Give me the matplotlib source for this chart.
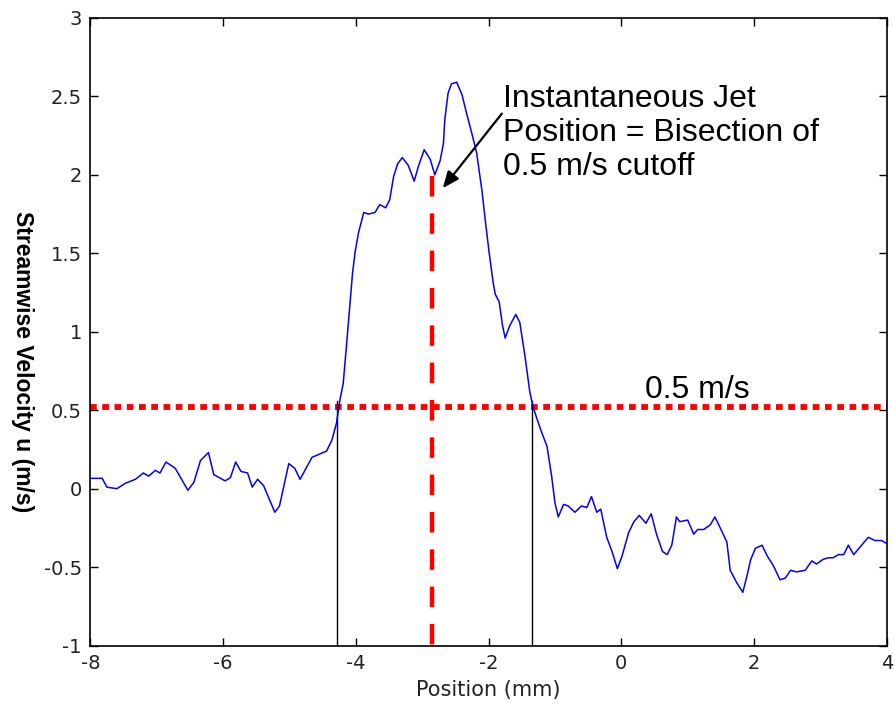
import matplotlib
matplotlib.use("Agg")
import matplotlib.pyplot as plt

plt.rcParams["axes.unicode_minus"] = False

# Data
position_mm = [-8.0, -7.82, -7.75, -7.6, -7.47, -7.32, -7.2, -7.12, -7.02, -6.95, -6.86, -6.72,
               -6.53, -6.44, -6.34, -6.22, -6.14, -5.97, -5.89, -5.81, -5.73, -5.63, -5.56, -5.48,
               -5.39, -5.22, -5.15, -5.01, -4.92, -4.84, -4.66, -4.44, -4.36, -4.29, -4.24, -4.19,
               -4.14, -4.09, -4.05, -4.01, -3.96, -3.91, -3.88, -3.81, -3.71, -3.64, -3.55, -3.49,
               -3.43, -3.37, -3.30, -3.21, -3.12, -3.06, -2.97, -2.88, -2.81, -2.73, -2.68, -2.66,
               -2.61, -2.56, -2.48, -2.40, -2.33, -2.25, -2.18, -2.10, -2.05, -1.99, -1.93, -1.90,
               -1.84, -1.79, -1.75, -1.68, -1.59, -1.53, -1.45, -1.38, -1.33, -1.21, -1.12, -1.05,
               -1.00, -0.95, -0.87, -0.80, -0.70, -0.60, -0.52, -0.45, -0.37, -0.31, -0.22, -0.14,
               -0.06, 0.01, 0.11, 0.19, 0.27, 0.37, 0.45, 0.53, 0.62, 0.69, 0.76, 0.83, 0.88, 1.00,
               1.09, 1.15, 1.24, 1.34, 1.41, 1.49, 1.59, 1.64, 1.74, 1.83, 1.89, 1.95, 2.02, 2.12,
               2.20, 2.29, 2.39, 2.47, 2.55, 2.64, 2.77, 2.87, 2.94, 3.04, 3.12, 3.19, 3.27, 3.35,
               3.42, 3.50, 3.60, 3.72, 3.82, 3.92, 4.0]
velocity_u = [0.066, 0.066, 0.01, 0.0, 0.035, 0.06, 0.10, 0.08, 0.117, 0.10, 0.17, 0.13,
              -0.01, 0.04, 0.18, 0.23, 0.09, 0.05, 0.07, 0.17, 0.11, 0.10, 0.01, 0.06,
              0.02, -0.15, -0.11, 0.16, 0.13, 0.06, 0.20, 0.24, 0.31, 0.42, 0.565, 0.67,
              0.915, 1.17, 1.37, 1.51, 1.63, 1.71, 1.76, 1.75, 1.76, 1.81, 1.79, 1.84,
              1.99, 2.07, 2.11, 2.06, 1.96, 2.05, 2.16, 2.10, 2.00, 2.09, 2.20, 2.35,
              2.52, 2.58, 2.59, 2.51, 2.39, 2.26, 2.14, 1.90, 1.71, 1.50, 1.31, 1.24,
              1.19, 1.04, 0.96, 1.04, 1.11, 1.06, 0.84, 0.62, 0.52, 0.37, 0.27, 0.08,
              -0.09, -0.18, -0.10, -0.11, -0.15, -0.11, -0.12, -0.05, -0.15, -0.13, -0.31, -0.40,
              -0.51, -0.43, -0.28, -0.21, -0.17, -0.22, -0.16, -0.29, -0.40, -0.42, -0.36, -0.18, -0.21, -0.20,
              -0.29, -0.26, -0.26, -0.23, -0.18, -0.25, -0.34, -0.52, -0.60, -0.66, -0.56, -0.45, -0.38, -0.36,
              -0.43, -0.49, -0.58, -0.57, -0.52, -0.53, -0.52, -0.46, -0.48, -0.45, -0.44, -0.44, -0.42, -0.42,
              -0.36, -0.42, -0.37, -0.31, -0.33, -0.33, -0.35]

cutoff = 0.52
left_cross = -4.29
right_cross = -1.35
jet_position = -2.85
jet_top = 1.99
cross_top = 0.56

xticks = [-8, -6, -4, -2, 0, 2, 4]
yticks = [-1, -0.5, 0, 0.5, 1, 1.5, 2, 2.5, 3]
ytick_labels = ["-1", "-0.5", "0", "0.5", "1", "1.5", "2", "2.5", "3"]

fig = plt.figure(figsize=(8.94, 7.15), dpi=100)
ax = fig.add_axes([0.101, 0.097, 0.891, 0.878])

ax.plot(position_mm, velocity_u, color="#0000ff", lw=1.1, zorder=3)

ax.axhline(cutoff, color="#ff0000", lw=4.2, linestyle=(0, (1.15, 0.95)),
           dash_capstyle="butt", zorder=2)
ax.plot([jet_position, jet_position], [jet_top, -1], color="#ff0000", lw=3.2,
        linestyle=(0, (4.6, 3.8)), dash_capstyle="butt", zorder=4)
ax.plot([left_cross, left_cross], [-1, cross_top], color="black", lw=1.0, zorder=2)
ax.plot([right_cross, right_cross], [-1, cross_top], color="black", lw=1.0, zorder=2)

ax.text(-1.78, 2.58, "Instantaneous Jet\nPosition = Bisection of\n0.5 m/s cutoff",
        fontsize=23, family="Liberation Sans", ha="left", va="top", linespacing=1.17)
ax.annotate("", xy=(-2.69, 1.915), xytext=(-1.80, 2.39),
            arrowprops=dict(arrowstyle="-|>,head_length=1.0,head_width=0.42",
                            color="black", lw=1.6, shrinkA=0, shrinkB=0))
ax.text(0.36, 0.58, "0.5 m/s", fontsize=23, family="Liberation Sans",
        ha="left", va="baseline")

ax.set_xlim(-8, 4)
ax.set_ylim(-1, 3)
ax.set_xticks(xticks)
ax.set_yticks(yticks)
ax.set_yticklabels(ytick_labels)
ax.tick_params(direction="in", length=6, width=1, top=True, right=True,
               labelsize=14, labelcolor="#222222", pad=6)
for lbl in ax.get_xticklabels() + ax.get_yticklabels():
    lbl.set_family("DejaVu Sans")
for sp in ax.spines.values():
    sp.set_linewidth(1.2)

ax.set_xlabel("Position (mm)", fontsize=15, family="DejaVu Sans", color="#222222", labelpad=5)
fig.text(22 / 894, 1 - 362 / 715, "Streamwise Velocity u (m/s)", fontsize=16.5,
         fontweight="bold", family="Liberation Sans", rotation=-90,
         ha="center", va="center")

fig.savefig("out.png", dpi=100)
